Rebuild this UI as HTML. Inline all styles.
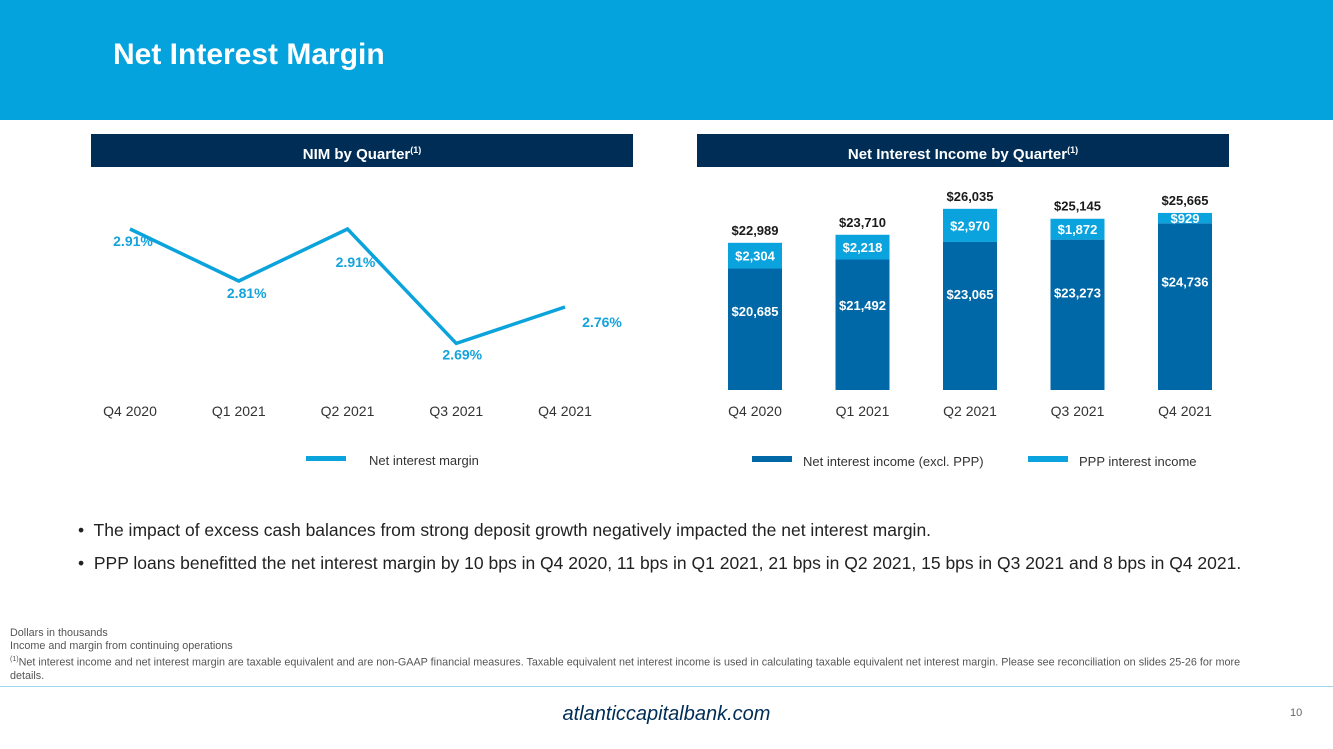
<!DOCTYPE html>
<html><head><meta charset="utf-8"><style>
body{margin:0;width:1333px;height:749px;background:#fff;font-family:"Liberation Sans",sans-serif;position:relative;overflow:hidden}
.abs{position:absolute}
.ph{background:#002d56;color:#fff;font-weight:bold;font-size:15px;text-align:center;line-height:33px;height:33px}
</style></head><body>
<div class="abs" style="left:0;top:0;width:1333px;height:120px;background:#04a3de"></div>
<div class="abs" style="left:113px;top:38px;color:#fff;font-weight:bold;font-size:30px">Net Interest Margin</div>
<div class="abs ph" style="left:91px;top:134px;width:542px">NIM by Quarter<sup style="font-size:9px">(1)</sup></div>
<div class="abs ph" style="left:697px;top:134px;width:532px">Net Interest Income by Quarter<sup style="font-size:9px">(1)</sup></div>
<svg class="abs" style="left:0;top:0" width="1333" height="500" id="svg"></svg>
<div class="abs" style="left:78px;top:514px;font-size:17.5px;color:#222;line-height:33px;white-space:nowrap">
<div>•&nbsp; The impact of excess cash balances from strong deposit growth negatively impacted the net interest margin.</div>
<div>•&nbsp; PPP loans benefitted the net interest margin by 10 bps in Q4 2020, 11 bps in Q1 2021, 21 bps in Q2 2021, 15 bps in Q3 2021 and 8 bps in Q4 2021.</div>
</div>
<div class="abs" style="left:10px;top:627px;width:1262px;font-size:10.8px;color:#555;line-height:13px">Dollars in thousands<br>Income and margin from continuing operations<br><sup style="font-size:7px">(1)</sup>Net interest income and net interest margin are taxable equivalent and are non-GAAP financial measures. Taxable equivalent net interest income is used in calculating taxable equivalent net interest margin. Please see reconciliation on slides 25-26 for more details.</div>
<div class="abs" style="left:0;top:686px;width:1333px;height:1px;background:#9fd6ee"></div>
<div class="abs" style="left:0;width:1333px;top:703px;text-align:center;font-style:italic;font-size:20px;color:#002d56">atlanticcapitalbank.com</div>
<div class="abs" style="left:1290px;top:707px;font-size:11px;color:#666">10</div>
<script>
const quarters=["Q4 2020","Q1 2021","Q2 2021","Q3 2021","Q4 2021"];
const nim=[2.91,2.81,2.91,2.69,2.76];
const nimLabels=["2.91%","2.81%","2.91%","2.69%","2.76%"];
const core=[20685,21492,23065,23273,24736];
const ppp=[2304,2218,2970,1872,929];
const totals=[22989,23710,26035,25145,25665];
const NS="http://www.w3.org/2000/svg",svg=document.getElementById('svg');
function mk(t,a,txt){const e=document.createElementNS(NS,t);for(const k in a)e.setAttribute(k,a[k]);if(txt!=null)e.textContent=txt;svg.appendChild(e);return e;}
const lx=i=>130+i*108.75, ly=v=>229+(2.91-v)*520;
const bx=i=>755+i*107.5, by=v=>390-(v-9800)*0.01116;
let d=nim.map((v,i)=>(i?'L':'M')+lx(i)+','+ly(v)).join(' ');
let p=mk('path',{d:d,fill:'none',stroke:'#0ba3dc','stroke-width':3.5});


const ldx=[3,8,8,6,37], ldy=[12,12,33,11,15];
nim.forEach((v,i)=>{let t=mk('text',{x:lx(i)+ldx[i],y:ly(v)+ldy[i]+5,'text-anchor':'middle','font-size':14,'font-weight':'bold',fill:'#14a3dc'},nimLabels[i]);

});
quarters.forEach((q,i)=>{let t=mk('text',{x:lx(i),y:416,'text-anchor':'middle','font-size':14,fill:'#333'},q);


let u=mk('text',{x:bx(i),y:416,'text-anchor':'middle','font-size':14,fill:'#333'},q);

});
quarters.forEach((q,i)=>{
 const yc=by(core[i]), yt=by(core[i]+ppp[i]);
 let r=mk('rect',{x:bx(i)-27,y:yc,width:54,height:390-yc,fill:'#0168a8'});
 
 
 let r2=mk('rect',{x:bx(i)-27,y:yt,width:54,height:yc-yt,fill:'#0aa3de'});
 
 
 let t1=mk('text',{x:bx(i),y:yc+(390-yc)*0.35+5,'text-anchor':'middle','font-size':13,'font-weight':'bold',fill:'#fff'},'$'+core[i].toLocaleString('en-US'));
 
 
 let t2=mk('text',{x:bx(i),y:(yt+yc)/2+5,'text-anchor':'middle','font-size':13,'font-weight':'bold',fill:'#fff'},'$'+ppp[i].toLocaleString('en-US'));
 
 
 let t3=mk('text',{x:bx(i),y:yt-8,'text-anchor':'middle','font-size':13,'font-weight':'bold',fill:'#1a1a1a'},'$'+totals[i].toLocaleString('en-US'));
 
 
});
let l1=mk('rect',{x:306,y:456,width:40,height:5,fill:'#0ba3dc'});
let l1t=mk('text',{x:369,y:465,'font-size':13,fill:'#333'},'Net interest margin');
let l2=mk('rect',{x:752,y:456,width:40,height:6,fill:'#0168a8'});
let l2t=mk('text',{x:803,y:466,'font-size':13,fill:'#333'},'Net interest income (excl. PPP)');
let l3=mk('rect',{x:1028,y:456,width:40,height:6,fill:'#0aa3de'});
let l3t=mk('text',{x:1079,y:466,'font-size':13,fill:'#333'},'PPP interest income');
</script>
</body></html>
